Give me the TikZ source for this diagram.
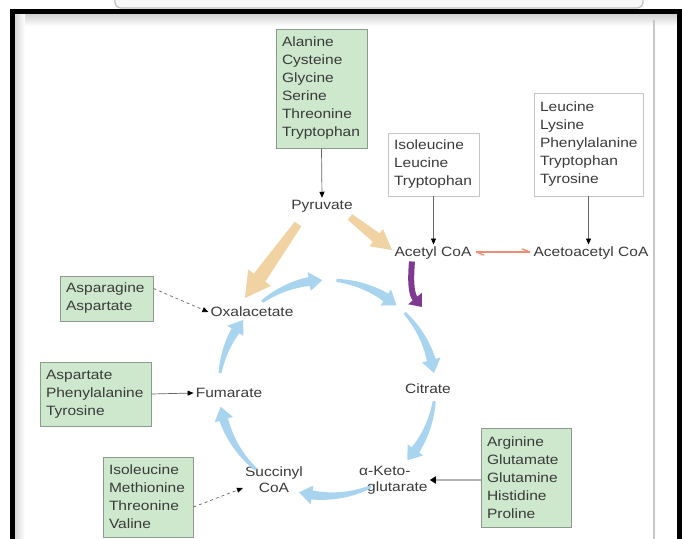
\documentclass[tikz,border=0pt]{standalone}
\usepackage{fontspec}
\setmainfont[FakeStretch=1.15]{Liberation Sans}
\usetikzlibrary{arrows.meta,calc}
\definecolor{boxgreen}{HTML}{CDE8CC}
\definecolor{boxline}{HTML}{8F9A8F}
\definecolor{wline}{HTML}{C4C4C4}
\definecolor{cyc}{HTML}{A9D4F0}
\definecolor{tanc}{HTML}{F1D2A2}
\definecolor{purp}{HTML}{7E3A90}
\definecolor{salmon}{HTML}{EE8F75}
\definecolor{txt}{HTML}{3A3A3A}
\newcommand\cycarrow[2]{%
  \pgfmathsetmacro\ah{#2+7}%
  \fill[cyc] plot[domain=0:1,samples=12] ({#1+(\ah-#1)*\x}:{108+1.5+3*\x})
    -- (\ah:{108+9.5}) -- (#2:108) -- (\ah:{108-9.5})
    -- plot[domain=1:0,samples=12] ({#1+(\ah-#1)*\x}:{108-1.5-3*\x}) -- cycle;}
\newcommand\taper[7]{%
  \coordinate (tpH) at ($(#2)!#6!(#1)$);
  \fill[#7] ($(#1)!#3!90:(#2)$) -- ($(tpH)!#4!90:(#2)$) -- ($(tpH)!#5!90:(#2)$)
    -- (#2) -- ($(tpH)!#5!-90:(#2)$) -- ($(tpH)!#4!-90:(#2)$)
    -- ($(#1)!#3!-90:(#2)$) -- cycle;}
\begin{document}
\begin{tikzpicture}[x=1pt,y=-1pt,
  every node/.style={font=\fontsize{13.5}{18}\selectfont, text=txt},
  box/.style={draw=boxline, fill=boxgreen, line width=0.9pt, inner xsep=6pt, inner ysep=2pt, align=left},
  wbox/.style={draw=wline, fill=white, line width=0.9pt, inner xsep=6pt, inner ysep=2pt, align=left},
  lbl/.style={inner sep=2pt, align=center},
  conn/.style={draw=black!60, line width=0.7pt, -{Triangle[width=5pt,length=6pt,color=black]}},
  gconn/.style={draw=black!30, line width=2pt, -{Triangle[width=7pt,length=6pt,color=black]}},
  redline/.style={draw=salmon, line width=1.5pt, line cap=round}
]
\useasboundingbox (0,0) rectangle (682,538);
\fill[white] (0,0) rectangle (682,538);
% top tab
\draw[black!25, line width=1.2pt, fill=black!3, rounded corners=6pt] (115,-12) rectangle (643,8);
% inner shadows and frame
\shade[top color=black!18, bottom color=white] (15,14) rectangle (677,26);
\shade[left color=black!15, right color=white] (15,14) rectangle (25,540);
\draw[black!22, line width=2pt] (654,20) -- (654,540);
\draw[black, line width=5pt, line join=miter] (12.5,545) -- (12.5,11.5) -- (679.5,11.5) -- (679.5,545);

% amino acid boxes
\node[box, text width=79pt, minimum height=119pt] (aa) at (321.5,88.5)
  {Alanine\\Cysteine\\Glycine\\Serine\\Threonine\\Tryptophan};
\node[wbox, text width=79pt, minimum height=63pt] (ile) at (433.5,164.5)
  {Isoleucine\\Leucine\\Tryptophan};
\node[wbox, text width=97pt, minimum height=103pt] (leu) at (588.5,144.5)
  {Leucine\\Lysine\\Phenylalanine\\Tryptophan\\Tyrosine};
\node[box, text width=81pt, minimum height=45pt] (asn) at (106.5,298.5)
  {Asparagine\\Aspartate};
\node[box, text width=99pt, minimum height=64pt] (asp) at (95.5,394)
  {Aspartate\\Phenylalanine\\Tyrosine};
\node[box, text width=78pt, minimum height=80pt] (ilev) at (148,497)
  {Isoleucine\\Methionine\\Threonine\\Valine};
\node[box, text width=78pt, minimum height=99pt] (arg) at (526,477.5)
  {Arginine\\Glutamate\\Glutamine\\Histidine\\Proline};

% metabolites
\node[lbl] (pyr) at (322,206) {Pyruvate};
\node[lbl] (acetyl) at (433,253) {Acetyl CoA};
\node[lbl] (acac) at (591,253) {Acetoacetyl CoA};
\node[lbl] (oxa) at (252,312) {Oxalacetate};
\node[lbl] (fum) at (229,393) {Fumarate};
\node[lbl] (cit) at (428,389) {Citrate};
\node[lbl, anchor=west, align=left, font=\fontsize{13.5}{16}\selectfont] (akg) at (357,480)
  {α-Keto-\\\hspace*{8pt}glutarate};
\node[lbl, font=\fontsize{13.5}{16}\selectfont] (succ) at (274,480) {Succinyl\\CoA};

% connectors
\draw[conn] (aa.south) -- (pyr.north);
\draw[conn] (ile.south) -- (ile.south |- acetyl.north);
\draw[conn] (leu.south) -- (leu.south |- acac.north);
\draw[conn, dashed] ([yshift=10pt]asn.east) -- (oxa.west);
\draw[conn] (asp.east) -- (fum.west);
\draw[conn, dashed] ([yshift=-10pt]ilev.east) -- ([yshift=-8pt]succ.west);
\draw[gconn] (arg.west |- akg.east) -- (akg.east);
% reversible harpoons
\coordinate (hl) at ([xshift=3pt,yshift=1pt]acetyl.east);
\coordinate (hr) at ([xshift=-2pt,yshift=1pt]acac.west);
\draw[redline] (hl) -- (hr);
\draw[redline] (hr) -- ++(-7,-3);
\draw[redline] (hl) -- ++(7,3);

% tan arrows from pyruvate
\taper{298,224}{245,298}{4pt}{7pt}{14pt}{25pt}{tanc}
\taper{350,217}{392,250}{3.5pt}{5.5pt}{11pt}{20pt}{tanc}

% purple arrow
\draw[purp, line width=6pt, -{Triangle[width=17pt,length=11pt]}]
  ([xshift=-21pt]acetyl.south) .. controls (410,285) and (412,295) .. (422,307);

% cycle
\begin{scope}[shift={(327,388)}, yscale=-1]
  \cycarrow{127}{92.5}
  \cycarrow{85}{50}
  \cycarrow{44}{8}
  \cycarrow{-7}{-42}
  \cycarrow{-66}{-105}
  \cycarrow{-131}{-170}
  \cycarrow{172}{141}
\end{scope}
\end{tikzpicture}
\end{document}
